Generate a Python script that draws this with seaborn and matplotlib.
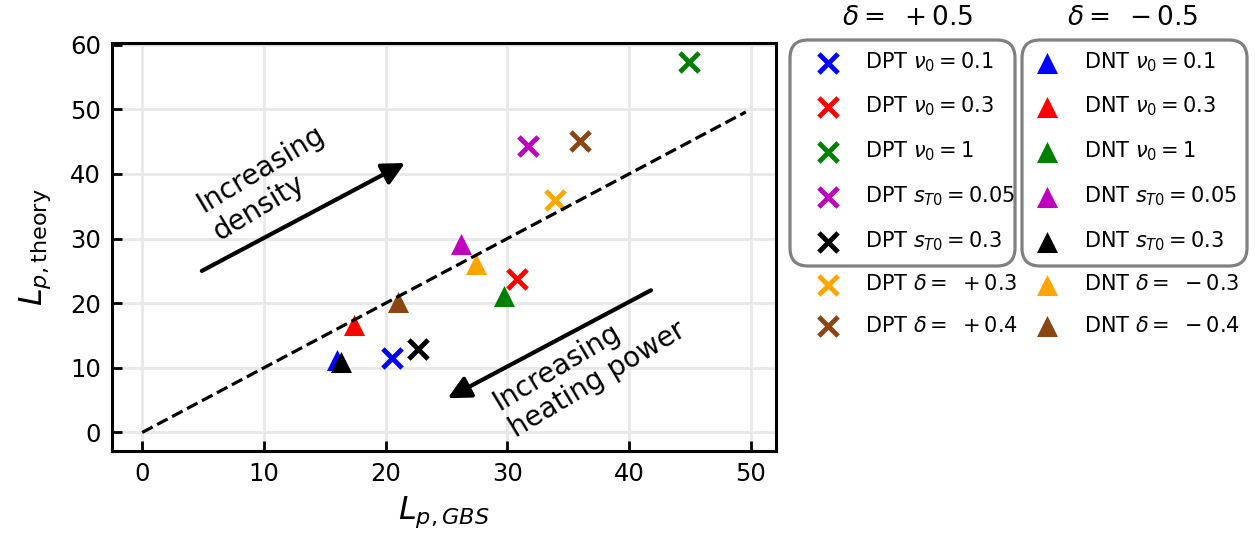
import numpy as np
import pandas as pd
import matplotlib
matplotlib.use("Agg")
import matplotlib.pyplot as plt
import seaborn as sns
from matplotlib.patches import FancyBboxPatch
from matplotlib.transforms import IdentityTransform

# ---------------- data ----------------
dpt_labels = [r"DPT $\nu_0 = 0.1$", r"DPT $\nu_0 = 0.3$", r"DPT $\nu_0 = 1$",
              r"DPT $s_{T0} = 0.05$", r"DPT $s_{T0} = 0.3$",
              r"DPT $\delta =\ +0.3$", r"DPT $\delta =\ +0.4$"]
dnt_labels = [r"DNT $\nu_0 = 0.1$", r"DNT $\nu_0 = 0.3$", r"DNT $\nu_0 = 1$",
              r"DNT $s_{T0} = 0.05$", r"DNT $s_{T0} = 0.3$",
              r"DNT $\delta =\ -0.3$", r"DNT $\delta =\ -0.4$"]
dpt_x = [20.5, 30.8, 44.9, 31.7, 22.7, 33.9, 36.0]
dpt_y = [11.5, 23.7, 57.4, 44.3, 12.9, 36.0, 45.1]
dnt_x = [16.0, 17.4, 29.7, 26.2, 16.3, 27.4, 21.0]
dnt_y = [11.2, 16.7, 21.1, 29.2, 10.9, 26.0, 20.2]
ref_x = [0.0, 49.6]
ref_y = [0.0, 49.6]
title_pos = r"$\delta =\ +0.5$"
title_neg = r"$\delta =\ -0.5$"

colors = ["blue", "red", "green", "m", "black", "orange", "#8B4513"]

# ---------------- figure ----------------
W, H = 1255, 542
fig = plt.figure(figsize=(W / 100, H / 100), dpi=100)
ax = fig.add_axes([112 / W, 1 - 451 / H, (776 - 112) / W, (451 - 43) / H])

sns.lineplot(x=ref_x, y=ref_y, ax=ax, color="black", linestyle="--", lw=2.3)

dpt_handles, dnt_handles = [], []
for i in range(len(dpt_labels)):
    sns.scatterplot(x=[dpt_x[i]], y=[dpt_y[i]], ax=ax, marker="x", s=190,
                    color=colors[i], linewidth=3.5, label=dpt_labels[i], legend=False)
    dpt_handles.append(ax.collections[-1])
    sns.scatterplot(x=[dnt_x[i]], y=[dnt_y[i]], ax=ax, marker="^", s=230,
                    color=colors[i], linewidth=0, label=dnt_labels[i], legend=False)
    dnt_handles.append(ax.collections[-1])

ax.grid(True, color="#e8e8e8", lw=2)
ax.set_axisbelow(True)
for sp in ax.spines.values():
    sp.set_linewidth(2.2)
ax.tick_params(direction="in", length=7.5, width=2, labelsize=17.5, pad=8)
ax.set_xticks([0, 10, 20, 30, 40, 50])
ax.set_yticks([0, 10, 20, 30, 40, 50, 60])
ax.set_xlabel(r"$L_{p,GBS}$", fontsize=23, labelpad=6)
ax.set_ylabel(r"$L_{p,\mathrm{theory}}$", fontsize=23, labelpad=12)

# arrows and annotations
arrow_kw = dict(arrowstyle="-|>", lw=3, color="black", mutation_scale=34,
                shrinkA=0, shrinkB=0)
ax.annotate("", xy=(21.6, 41.7), xytext=(4.9, 25.0), arrowprops=arrow_kw)
ax.text(10.4, 38.6, "Increasing\ndensity", rotation=31, fontsize=20,
        ha="center", va="center", multialignment="left", rotation_mode="anchor")
ax.annotate("", xy=(25.1, 5.3), xytext=(41.8, 22.0), arrowprops=arrow_kw)
ax.text(36.7, 10.3, "Increasing\nheating power", rotation=31, fontsize=20,
        ha="center", va="center", multialignment="left", rotation_mode="anchor")

# legends
leg_kw = dict(loc="upper left", frameon=False, fontsize=15, labelspacing=1.02,
              handletextpad=0.8, borderpad=0, borderaxespad=0, scatterpoints=1,
              handlelength=1.92)
leg1 = fig.legend(dpt_handles, dpt_labels, bbox_to_anchor=(808 / W, 1 - 50 / H), **leg_kw)
leg2 = fig.legend(dnt_handles, dnt_labels, bbox_to_anchor=(1027 / W, 1 - 50 / H), **leg_kw)

fig.text(908 / W, 1 - 18 / H, title_pos, fontsize=19, ha="center", va="center")
fig.text(1133 / W, 1 - 18 / H, title_neg, fontsize=19, ha="center", va="center")

for x0 in (790, 1022):
    box = FancyBboxPatch((x0, H - 266), 225, 226,
                         boxstyle="round,pad=0,rounding_size=18",
                         transform=IdentityTransform(), fc="none", ec="gray", lw=2.3)
    fig.patches.append(box)

fig.savefig("out.png", dpi=100)
